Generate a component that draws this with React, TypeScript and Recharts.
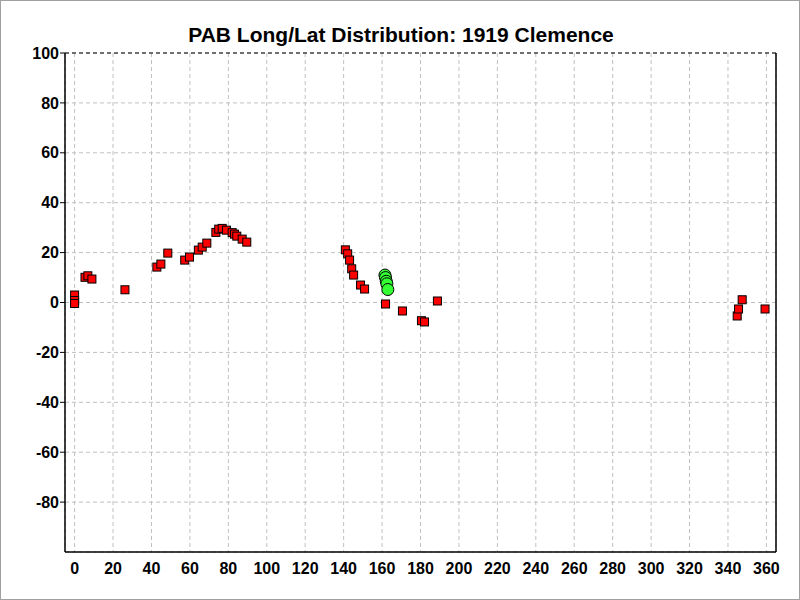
import React from 'react';
import {
  ScatterChart, Scatter, XAxis, YAxis, CartesianGrid, ReferenceLine
} from 'recharts';

// PAB observations (longitude / latitude, degrees)
const redLon = [0, 0, 0, 5.4, 6.9, 9, 26.2, 42.8, 44.9, 48.5, 57.3, 59.8, 64.4, 66.4, 68.8,
  73.5, 75, 76.8, 79, 82, 83.2, 84.4, 87.2, 89.6,
  140.9, 142.1, 143.1, 144.2, 145.2, 148.8, 150.9,
  161.8, 170.6, 180.5, 182.1, 188.8, 344.8, 345.5, 347.4, 359.3];
const redLat = [3, 0.8, -0.4, 10.1, 10.7, 9.4, 5.1, 14.2, 15.4, 19.8, 17.0, 18.2, 21.0, 22.2, 23.8,
  28.1, 29.4, 29.7, 29.0, 28, 27.4, 26.6, 25.4, 24.2,
  21.1, 19.5, 17.0, 13.5, 11.0, 7.0, 5.4,
  -0.6, -3.4, -7.3, -7.8, 0.6, -5.4, -2.6, 1.1, -2.6];

const greenLon = [161.5, 161.8, 162.2, 162.5, 163];
const greenLat = [11, 10, 8.5, 7.5, 5.2];

const xTicks = [0, 20, 40, 60, 80, 100, 120, 140, 160, 180, 200, 220, 240, 260, 280, 300, 320, 340, 360];
const yTicks = [100, 80, 60, 40, 20, 0, -20, -40, -60, -80];

const redData = redLon.map((lon, i) => ({ lon, lat: redLat[i] }));
const greenData = greenLon.map((lon, i) => ({ lon, lat: greenLat[i] }));

const font = 'Arial, "Liberation Sans", sans-serif';

const Square = (props: any) => (
  <rect x={props.cx - 4} y={props.cy - 4} width={8} height={8} fill="#ff0000" stroke="#000" strokeWidth={1} />
);

const Dot = (props: any) => (
  <circle cx={props.cx} cy={props.cy} r={6} fill="#33ff33" stroke="#000" strokeWidth={1} />
);

export default function App() {
  return (
    <div style={{ position: 'absolute', left: 0, top: 0, width: 800, height: 600, boxSizing: 'border-box', border: '1px solid #a0a0a0', background: '#fff', fontFamily: font }}>
      <div style={{ position: 'absolute', left: 0, top: 22, width: 800, textAlign: 'center', fontSize: 21, fontWeight: 'bold' }}>
        PAB Long/Lat Distribution: 1919 Clemence
      </div>
      <ScatterChart width={798} height={598} margin={{ top: 52, right: 23, bottom: 0, left: 0 }} style={{ position: 'absolute', left: 0, top: 0 }}>
        <CartesianGrid stroke="#c0c0c0" strokeDasharray="4 3" />
        <XAxis type="number" dataKey="lon" domain={[-5, 365]} ticks={xTicks} interval={0}
          height={47} tickLine={false} tickMargin={5} axisLine={{ stroke: '#000', strokeWidth: 1.5 }}
          tick={{ fill: '#000', fontSize: 16, fontWeight: 'bold', fontFamily: font }} allowDataOverflow />
        <YAxis type="number" dataKey="lat" domain={[-100, 100]} ticks={yTicks} interval={0}
          width={64} tickSize={5} tickMargin={1} axisLine={{ stroke: '#000', strokeWidth: 1.5 }}
          tickLine={{ stroke: '#000' }}
          tick={{ fill: '#000', fontSize: 16, fontWeight: 'bold', fontFamily: font }} allowDataOverflow />
        <ReferenceLine y={100} stroke="#000" strokeDasharray="4 3" />
        <ReferenceLine x={365} stroke="#000" strokeWidth={1.5} />
        <Scatter data={redData} shape={Square} isAnimationActive={false} />
        <Scatter data={greenData} shape={Dot} isAnimationActive={false} />
      </ScatterChart>
    </div>
  );
}
